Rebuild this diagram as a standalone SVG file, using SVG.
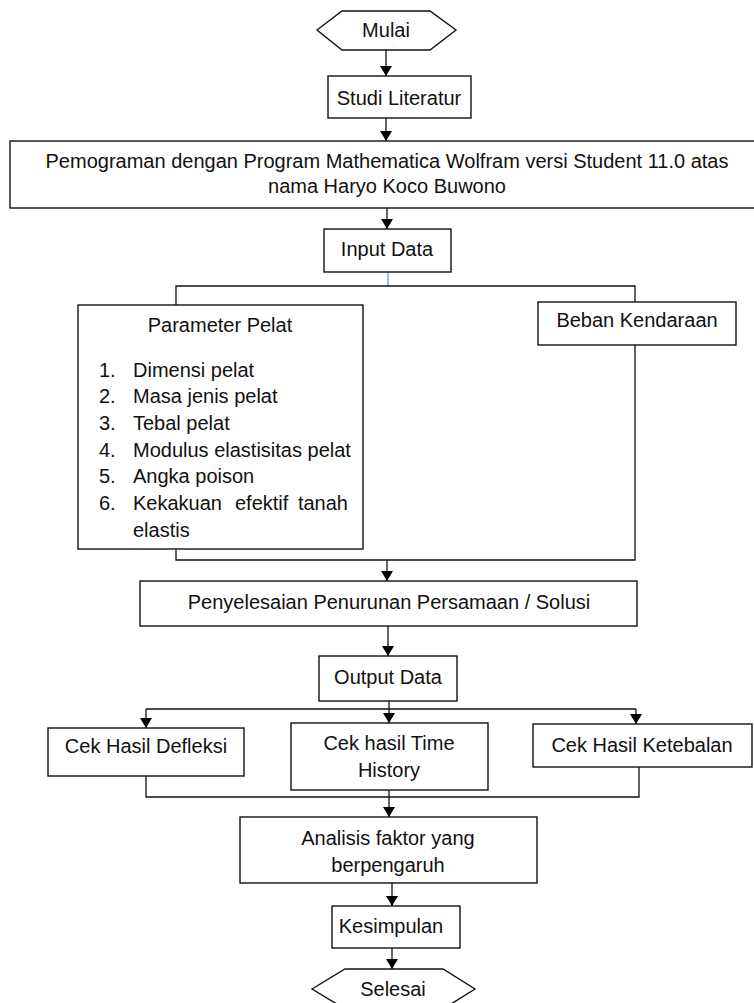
<svg xmlns="http://www.w3.org/2000/svg" width="754" height="1003" viewBox="0 0 754 1003">
<style>
.box{fill:#fff;stroke:#111;stroke-width:1.4}
.ln{fill:none;stroke:#111;stroke-width:1.3}
.arr{fill:none;stroke:#111;stroke-width:1.3;marker-end:url(#ah)}
text{font-family:"Liberation Sans",Arial,sans-serif;font-size:20px;fill:#111}
.c{text-anchor:middle}
</style>
<defs>
<marker id="ah" viewBox="0 0 10 12" refX="10" refY="6" markerWidth="10" markerHeight="12" markerUnits="userSpaceOnUse" orient="auto">
<path d="M0,0 L10,6 L0,12 Z" fill="#000"/>
</marker>
</defs>
<g id="connectors">
<line class="arr" x1="386" y1="50" x2="386" y2="76"/>
<line class="arr" x1="386" y1="118" x2="386" y2="141"/>
<line class="arr" x1="387" y1="208" x2="387" y2="229"/>
<line x1="388" y1="272" x2="388" y2="286" stroke="#5b9bd5" stroke-width="1.2"/>
<polyline class="ln" points="176,305 176,286 635,286 635,560 176,560 176,549"/>
<line class="arr" x1="387" y1="560" x2="387" y2="581"/>
<line class="arr" x1="388" y1="626" x2="388" y2="656"/>
<polyline class="ln" points="146,709 636,709"/>
<line class="arr" x1="146" y1="709" x2="146" y2="728"/>
<line class="arr" x1="389" y1="701" x2="389" y2="723"/>
<line class="arr" x1="636" y1="709" x2="636" y2="724"/>
<polyline class="ln" points="146,776 146,797 639,797 639,767"/>
<line class="arr" x1="389" y1="790" x2="389" y2="817"/>
<line class="arr" x1="392" y1="883" x2="392" y2="906"/>
<line class="arr" x1="392" y1="948" x2="392" y2="969"/>
</g>
<g id="mulai">
<polygon class="box" points="317,30 342,11 430,11 456,30 430,50 342,50"/>
<text class="c" x="386" y="37">Mulai</text>
</g>
<g id="studi">
<rect class="box" x="328" y="76" width="143" height="42"/>
<text class="c" x="399" y="105">Studi Literatur</text>
</g>
<g id="pemograman">
<rect class="box" x="10" y="141" width="760" height="67"/>
<text class="c" x="387" y="168">Pemograman dengan Program Mathematica Wolfram versi Student 11.0 atas</text>
<text class="c" x="387" y="193">nama Haryo Koco Buwono</text>
</g>
<g id="input">
<rect class="box" x="324" y="229" width="127" height="43"/>
<text class="c" x="387" y="256">Input Data</text>
</g>
<g id="parameter">
<rect class="box" x="78" y="305" width="285" height="244"/>
<text class="c" x="220" y="332">Parameter Pelat</text>
<text x="99" y="377">1.</text><text x="133" y="377">Dimensi pelat</text>
<text x="99" y="403">2.</text><text x="133" y="403">Masa jenis pelat</text>
<text x="99" y="430">3.</text><text x="133" y="430">Tebal pelat</text>
<text x="99" y="457">4.</text><text x="133" y="457">Modulus elastisitas pelat</text>
<text x="99" y="483">5.</text><text x="133" y="483">Angka poison</text>
<text x="99" y="510">6.</text><text x="133" y="510">Kekakuan</text><text x="235" y="510">efektif</text><text x="348" y="510" text-anchor="end">tanah</text>
<text x="133" y="537">elastis</text>
</g>
<g id="beban">
<rect class="box" x="538" y="302" width="198" height="43"/>
<text class="c" x="637" y="327">Beban Kendaraan</text>
</g>
<g id="penyelesaian">
<rect class="box" x="140" y="581" width="497" height="45"/>
<text class="c" x="389" y="609">Penyelesaian Penurunan Persamaan / Solusi</text>
</g>
<g id="output">
<rect class="box" x="319" y="656" width="138" height="45"/>
<text class="c" x="388" y="684">Output Data</text>
</g>
<g id="defleksi">
<rect class="box" x="48" y="728" width="196" height="48"/>
<text class="c" x="146" y="753">Cek Hasil Defleksi</text>
</g>
<g id="timehistory">
<rect class="box" x="291" y="723" width="197" height="67"/>
<text class="c" x="389" y="750">Cek hasil Time</text>
<text class="c" x="389" y="777">History</text>
</g>
<g id="ketebalan">
<rect class="box" x="533" y="724" width="219" height="43"/>
<text class="c" x="642" y="752">Cek Hasil Ketebalan</text>
</g>
<g id="analisis">
<rect class="box" x="240" y="817" width="297" height="66"/>
<text class="c" x="388" y="845">Analisis faktor yang</text>
<text class="c" x="388" y="872">berpengaruh</text>
</g>
<g id="kesimpulan">
<rect class="box" x="332" y="906" width="128" height="42"/>
<text class="c" x="391" y="933">Kesimpulan</text>
</g>
<g id="selesai">
<polygon class="box" points="312,989 345,969 443,969 475,989 443,1009 345,1009"/>
<text class="c" x="393" y="996">Selesai</text>
</g>
</svg>
